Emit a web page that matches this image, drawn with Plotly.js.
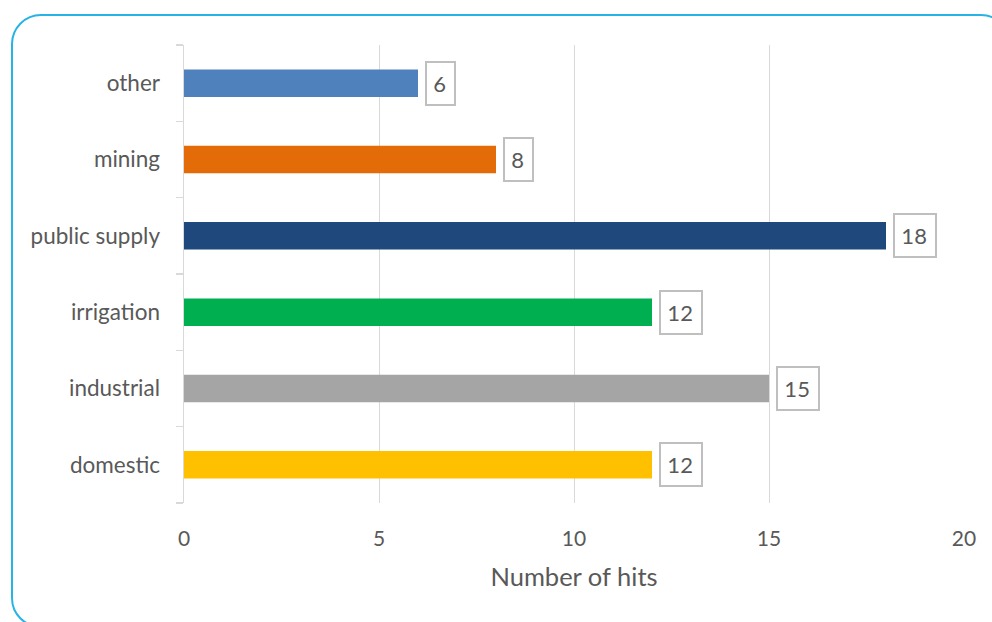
<!DOCTYPE html>
<html>
<head>
<meta charset="utf-8">
<script src="https://cdn.plot.ly/plotly-3.0.1.min.js"></script>
<style>
  html, body { margin: 0; padding: 0; background: #ffffff; overflow: hidden; }
  #frame { position: absolute; left: 11px; top: 14px; width: 1000px; height: 614px;
           border: 2.5px solid #27b3e6; border-radius: 30px; box-sizing: border-box; }
  #chart { position: absolute; left: 0; top: 0; width: 992px; height: 622px; }
</style>
</head>
<body>
<div id="frame"></div>
<div id="chart"></div>
<script>
const categories = ['domestic', 'industrial', 'irrigation', 'public supply', 'mining', 'other'];
const hits = [12, 15, 12, 18, 8, 6];
const barColors = ['#ffc000', '#a5a5a5', '#00b050', '#1f497d', '#e36c09', '#4f81bd'];
const xTicks = [0, 5, 10, 15, 20];

const textColor = '#595959';
const fontFamily = 'Lato, "Open Sans", sans-serif';

const trace = {
  type: 'bar',
  orientation: 'h',
  y: categories,
  x: hits,
  width: 0.36,
  marker: { color: barColors, line: { width: 0 } },
  hoverinfo: 'none'
};

const hair = '\u200A';
const annotations = categories.map((c, i) => ({
  x: hits[i], y: c, xref: 'x', yref: 'y',
  text: hair + String(hits[i]) + hair + hair,
  showarrow: false,
  xanchor: 'left', yanchor: 'middle',
  xshift: 7,
  height: 31,
  bordercolor: '#bfbfbf', borderwidth: 2, borderpad: 5,
  bgcolor: '#ffffff',
  font: { family: fontFamily, size: 22, color: textColor }
}));

const layout = {
  width: 992, height: 622,
  margin: { l: 184, r: 28, t: 45, b: 119 },
  paper_bgcolor: 'rgba(0,0,0,0)',
  plot_bgcolor: 'rgba(0,0,0,0)',
  showlegend: false,
  font: { family: fontFamily, color: textColor },
  xaxis: {
    range: [0, 20],
    tickvals: xTicks,
    ticktext: xTicks.map(String),
    showgrid: true, gridcolor: '#d9d9d9', gridwidth: 1,
    zeroline: false, showline: false,
    ticks: '', ticklabelstandoff: 21,
    tickfont: { family: fontFamily, size: 21, color: textColor },
    title: { text: 'Number of hits', standoff: 19,
             font: { family: fontFamily, size: 25.5, color: textColor } },
    fixedrange: true
  },
  yaxis: {
    type: 'category',
    categoryorder: 'array', categoryarray: categories,
    range: [-0.5, 5.5],
    showline: true, linecolor: '#d9d9d9', linewidth: 1.5,
    ticks: 'outside', tickson: 'boundaries', ticklen: 7, tickcolor: '#d9d9d9', tickwidth: 1.5,
    ticklabelstandoff: 18,
    showgrid: false, zeroline: false,
    tickfont: { family: fontFamily, size: 22.5, color: textColor },
    fixedrange: true
  },
  annotations: annotations
};

Plotly.newPlot('chart', [trace], layout, { displayModeBar: false, staticPlot: true });
</script>
</body>
</html>
